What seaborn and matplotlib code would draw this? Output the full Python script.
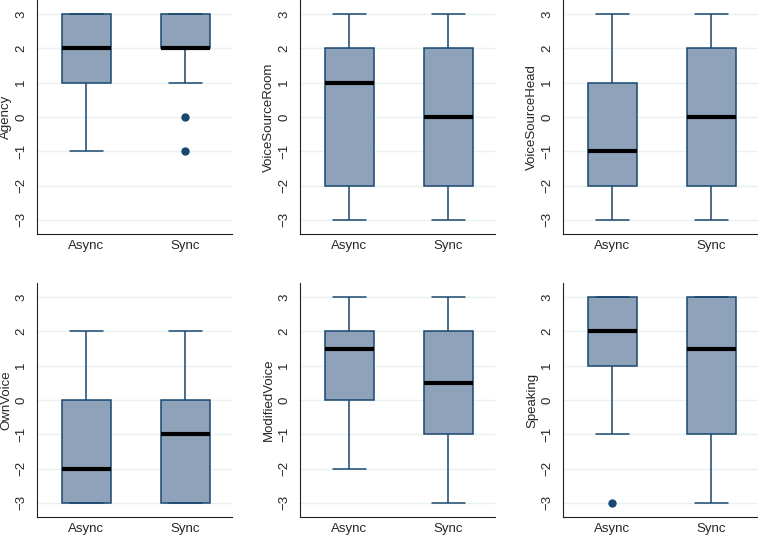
import matplotlib
matplotlib.use("Agg")
import matplotlib.pyplot as plt
import pandas as pd
import seaborn as sns

### Likert responses (-3..3) per condition
groups = ["Async", "Sync"]
variables = ["Agency", "VoiceSourceRoom", "VoiceSourceHead",
             "OwnVoice", "ModifiedVoice", "Speaking"]

agency_async = [-1, 0, 0, 1, 1, 1, 1, 2, 2, 2, 2, 2, 3, 3, 3, 3, 3, 3, 3, 3]
agency_sync = [-1, 0, 1, 1, 2, 2, 2, 2, 2, 2, 2, 2, 2, 3, 3, 3, 3, 3, 3, 3]
room_async = [-3, -3, -3, -2, -2, -2, -1, 0, 1, 1, 1, 1, 2, 2, 2, 2, 3, 3, 3, 3]
room_sync = [-3, -3, -2, -2, -2, -2, -1, -1, 0, 0, 0, 1, 1, 2, 2, 2, 3, 3, 3, 3]
head_async = [-3, -3, -3, -2, -2, -2, -2, -1, -1, -1, -1, 0, 0, 1, 1, 1, 2, 2, 3, 3]
head_sync = [-3, -3, -3, -2, -2, -2, -1, -1, 0, 0, 0, 0, 1, 1, 2, 2, 2, 3, 3, 3]
own_async = [-3, -3, -3, -3, -3, -3, -3, -2, -2, -2, -2, -1, -1, 0, 0, 0, 1, 1, 2, 2]
own_sync = [-3, -3, -3, -3, -3, -3, -2, -2, -1, -1, -1, -1, 0, 0, 0, 0, 1, 1, 2, 2]
mod_async = [-2, -1, 0, 0, 0, 0, 1, 1, 1, 1, 2, 2, 2, 2, 2, 2, 3, 3, 3, 3]
mod_sync = [-3, -2, -2, -1, -1, -1, -1, 0, 0, 0, 1, 1, 1, 1, 2, 2, 3, 3, 3, 3]
speak_async = [-3, -1, 0, 1, 1, 1, 1, 2, 2, 2, 2, 2, 3, 3, 3, 3, 3, 3, 3, 3]
speak_sync = [-3, -3, -2, -1, -1, -1, 0, 0, 1, 1, 2, 2, 2, 3, 3, 3, 3, 3, 3, 3]

responses = {
    "Agency": (agency_async, agency_sync),
    "VoiceSourceRoom": (room_async, room_sync),
    "VoiceSourceHead": (head_async, head_sync),
    "OwnVoice": (own_async, own_sync),
    "ModifiedVoice": (mod_async, mod_sync),
    "Speaking": (speak_async, speak_sync),
}

rows = []
for var in variables:
    for grp, vals in zip(groups, responses[var]):
        for v in vals:
            rows.append({"variable": var, "group": grp, "value": v})
data = pd.DataFrame(rows)

navy = "#1a476f"
fill = "#8ea3b9"

sns.set_style("white")
plt.rcParams["font.family"] = ["Liberation Sans", "DejaVu Sans"]

fig = plt.figure(figsize=(7.58, 5.35), dpi=100)
W, H = 758, 535
lefts = [37, 300, 563]
tops = [0, 283]
ax_w, ax_h = 195, 234

for index, var in enumerate(variables):
    r, c = divmod(index, 3)
    ax = fig.add_axes([lefts[c] / W, 1 - (tops[r] + ax_h) / H, ax_w / W, ax_h / H])
    sub = data[data["variable"] == var]
    sns.boxplot(data=sub, x="group", y="value", order=groups, ax=ax,
                width=0.49, color=fill, saturation=1, linecolor=navy,
                linewidth=1.1, capwidths=0.33,
                medianprops={"color": "black", "linewidth": 3},
                flierprops={"marker": "o", "markerfacecolor": navy,
                            "markeredgecolor": navy, "markersize": 5})
    ax.set_xlim(-0.5, 1.47)
    ax.set_ylim(-3.41, 3.41)
    ax.set_yticks(range(-3, 4))
    ax.yaxis.grid(True, color="#eaf1f3", linewidth=1)
    ax.set_axisbelow(True)
    ax.set_xlabel("")
    ax.set_ylabel(var, fontsize=9.5)
    # label anchor is its right edge once rotated
    ax.yaxis.set_label_coords(-0.128, 0.5)
    for side in ["top", "right"]:
        ax.spines[side].set_visible(False)
    for side in ["left", "bottom"]:
        ax.spines[side].set_color("#222222")
        ax.spines[side].set_linewidth(0.8)
    ax.tick_params(axis="y", length=4, width=0.8, color="#808080",
                   labelrotation=90, labelsize=9.5, pad=3)
    ax.tick_params(axis="x", length=0, labelsize=9.5, pad=4)
    for lab in ax.get_yticklabels():
        lab.set_va("center")

fig.savefig("out.png", dpi=100)
